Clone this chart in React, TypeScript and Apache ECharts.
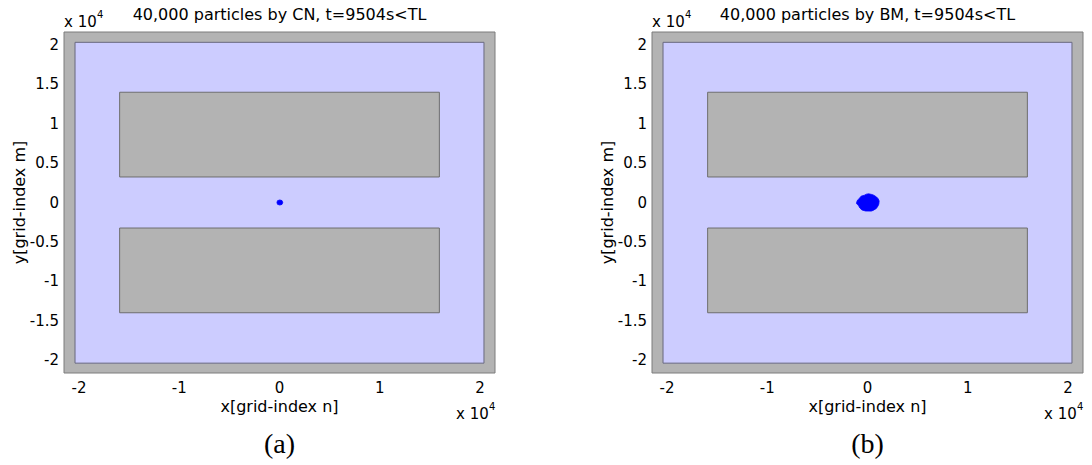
import React, { useEffect, useRef } from "react";
import * as echarts from "echarts";

// Panel texts
const PANEL_TITLES = [
  "40,000 particles by CN, t=9504s<TL",
  "40,000 particles by BM, t=9504s<TL",
];
const PANEL_TAGS = ["(a)", "(b)"];
const X_NAME = "x[grid-index n]";
const Y_NAME = "y[grid-index m]";

// Axis extents and tick values (grid index units)
const X_RANGE = [-21500, 21500];
const Y_RANGE = [-21650, 21650];
const X_TICKS = [-20000, -10000, 0, 10000, 20000];
const Y_TICKS = [-20000, -15000, -10000, -5000, 0, 5000, 10000, 15000, 20000];

// Water domain [xMin, xMax, yMin, yMax]
const DOMAIN = [-20400, 20400, -20400, 20340];
// Land blocks [xMin, xMax, yMin, yMax]
const BLOCKS = [
  [-15950, 15950, 3240, 14000],
  [-15950, 15950, -14000, -3240],
];

// Outline of the particle cloud for each scheme [x, y]
const CN_CLOUD = [
  [-250, 0], [-200, 230], [30, 320], [250, 240], [320, 0],
  [250, -240], [30, -320], [-200, -230],
];
const BM_CLOUD = [
  [-1080, 40], [-980, 330], [-880, 420], [-640, 800], [-300, 930],
  [-100, 1060], [120, 1100], [420, 1020], [620, 930], [900, 700],
  [1060, 480], [1160, 200], [1130, -200], [1060, -420], [880, -760],
  [560, -1000], [380, -1090], [-200, -1080], [-560, -940], [-760, -700],
  [-880, -420], [-1000, -260], [-1100, -120],
];
const CLOUDS = [CN_CLOUD, BM_CLOUD];

const GRAY = "#b3b3b3";
const WATER = "#ccccff";
const BLUE = "#0000ff";
const SANS = "DejaVu Sans";

const GRID_LEFTS = [64, 652];
const GRID_TOP = 32;
const GRID_W = 431;
const GRID_H = 341;

function rectItem(api: any, fill: string, stroke: string) {
  const a = api.coord([api.value(0), api.value(3)]);
  const b = api.coord([api.value(1), api.value(2)]);
  return {
    type: "rect",
    shape: { x: a[0], y: a[1], width: b[0] - a[0], height: b[1] - a[1] },
    style: { fill, stroke, lineWidth: 1 },
  };
}

function label(x: number, y: number, text: string, font: string, align = "center", rotation = 0) {
  return {
    type: "text",
    x,
    y,
    rotation,
    style: { text, font, fill: "#000", align, verticalAlign: "middle" },
  };
}

export default function App() {
  const ref = useRef<HTMLDivElement>(null);

  useEffect(() => {
    if (!ref.current) return;
    const chart = echarts.init(ref.current, null, { renderer: "svg" });

    const grids: any[] = [];
    const xAxes: any[] = [];
    const yAxes: any[] = [];
    const series: any[] = [];
    const graphics: any[] = [];

    const tickLabel = (ticks: number[], margin: number) => ({
      customValues: ticks,
      formatter: (v: number) => String(v / 10000),
      color: "#000",
      fontFamily: SANS,
      fontSize: 15,
      margin,
    });

    GRID_LEFTS.forEach((left, i) => {
      const cx = left + GRID_W / 2;
      grids.push({
        left,
        top: GRID_TOP,
        width: GRID_W,
        height: GRID_H,
        show: true,
        backgroundColor: GRAY,
        borderColor: "#7d7d7d",
        borderWidth: 1,
      });
      xAxes.push({
        type: "value",
        gridIndex: i,
        min: X_RANGE[0],
        max: X_RANGE[1],
        axisLine: { show: false },
        axisTick: { show: false },
        splitLine: { show: false },
        axisLabel: tickLabel(X_TICKS, 7),
      });
      yAxes.push({
        type: "value",
        gridIndex: i,
        min: Y_RANGE[0],
        max: Y_RANGE[1],
        axisLine: { show: false },
        axisTick: { show: false },
        splitLine: { show: false },
        axisLabel: tickLabel(Y_TICKS, 5),
      });

      // water domain
      series.push({
        type: "custom",
        xAxisIndex: i,
        yAxisIndex: i,
        z: 1,
        silent: true,
        data: [DOMAIN],
        renderItem: (_p: any, api: any) => rectItem(api, WATER, "#68687e"),
      });
      // land blocks
      series.push({
        type: "custom",
        xAxisIndex: i,
        yAxisIndex: i,
        z: 2,
        silent: true,
        data: BLOCKS,
        renderItem: (_p: any, api: any) => rectItem(api, GRAY, "#6e6e6e"),
      });
      // particle cloud
      const cloud = CLOUDS[i];
      series.push({
        type: "custom",
        xAxisIndex: i,
        yAxisIndex: i,
        z: 3,
        silent: true,
        data: [cloud[0]],
        renderItem: (_p: any, api: any) => ({
          type: "polygon",
          shape: { points: cloud.map((pt) => api.coord(pt)) },
          style: { fill: BLUE, stroke: BLUE, lineWidth: 0.8 },
        }),
      });

      graphics.push(
        label(cx, 14, PANEL_TITLES[i], `16px "${SANS}"`),
        label(cx, 406, X_NAME, `16px "${SANS}"`),
        label(left - 45, GRID_TOP + GRID_H / 2, Y_NAME, `16px "${SANS}"`, "center", Math.PI / 2),
        // exponent above the y axis
        label(left, 22, "x 10", `15px "${SANS}"`, "left"),
        label(left + 33, 14, "4", `10px "${SANS}"`, "left"),
        // exponent under the x axis
        label(left + 392, 414, "x 10", `15px "${SANS}"`, "left"),
        label(left + 425, 406, "4", `10px "${SANS}"`, "left"),
        label(cx, 443, PANEL_TAGS[i], `28px "Liberation Serif"`)
      );
    });

    chart.setOption({
      animation: false,
      backgroundColor: "#ffffff",
      grid: grids,
      xAxis: xAxes,
      yAxis: yAxes,
      series,
      graphic: graphics,
    });

    return () => chart.dispose();
  }, []);

  return (
    <div
      ref={ref}
      style={{ position: "absolute", left: 0, top: 0, width: 1092, height: 465 }}
    />
  );
}
